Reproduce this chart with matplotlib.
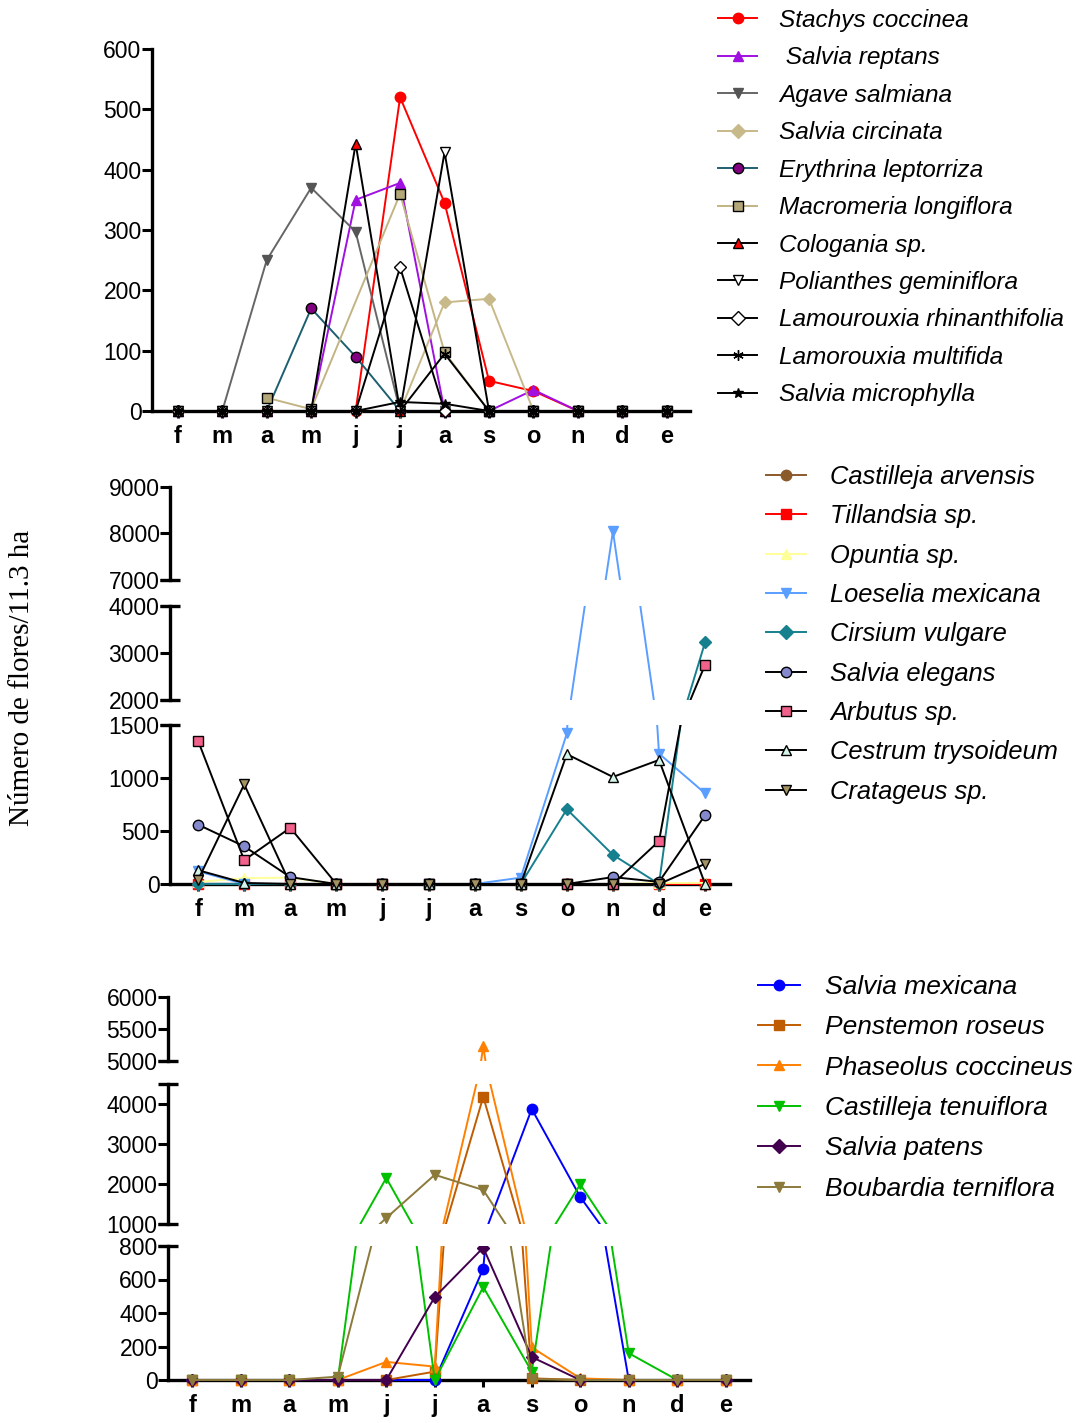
import numpy as np
import matplotlib
matplotlib.use('Agg')
import matplotlib.pyplot as plt
from matplotlib.lines import Line2D

plt.rcParams['font.family'] = ['Liberation Sans', 'DejaVu Sans']

nan = np.nan
months = ['f', 'm', 'a', 'm', 'j', 'j', 'a', 's', 'o', 'n', 'd', 'e']

# panel 1 (0-600)
stachys_coccinea = [0, 0, 0, 0, 0, 520, 345, 50, 33, 0, 0, 0]
salvia_reptans = [0, 0, 0, 0, 350, 378, 0, 0, 35, 0, 0, 0]
agave_salmiana = [0, 0, 250, 370, 297, 0, 0, 0, 0, 0, 0, 0]
salvia_circinata = [0, 0, 0, 0, 0, 0, 180, 186, 0, 0, 0, 0]
erythrina_leptorriza = [0, 0, 0, 170, 90, 0, 0, 0, 0, 0, 0, 0]
macromeria_longiflora = [nan, nan, 22, 3, nan, 360, 97, 0, 0, 0, 0, 0]
cologania = [0, 0, 0, 0, 443, 0, 0, 0, 0, 0, 0, 0]
polianthes_geminiflora = [0, 0, 0, 0, 0, 0, 429, 0, 0, 0, 0, 0]
lamourouxia_rhinanthifolia = [0, 0, 0, 0, 0, 238, 0, 0, 0, 0, 0, 0]
lamorouxia_multifida = [0, 0, 0, 0, 0, 0, 95, 0, 0, 0, 0, 0]
salvia_microphylla = [0, 0, 0, 0, 0, 15, 12, 0, 0, 0, 0, 0]

# panel 2 (broken axis 0-1500 / 2000-4000 / 7000-9000)
castilleja_arvensis = [0, 0, 0, 0, 0, 0, 0, 0, 0, 0, 0, 0]
tillandsia = [0, 0, 0, 0, 0, 0, 0, 0, 0, 0, 0, 0]
opuntia = [20, 55, 60, 0, 0, 0, 0, 0, 0, 0, 10, 10]
loeselia_mexicana = [120, 0, 0, 0, 0, 0, 0, 60, 1420, 8050, 1230, 855]
cirsium_vulgare = [0, 0, 0, 0, 0, 0, 0, 0, 705, 275, 0, 3230]
salvia_elegans = [560, 355, 65, 0, 0, 0, 0, 0, 0, 65, 20, 650]
arbutus = [1350, 225, 530, 0, 0, 0, 0, 0, 0, 0, 405, 2750]
cestrum_trysoideum = [130, 10, 0, 0, 0, 0, 0, 0, 1225, 1010, 1170, 0]
crataegus = [40, 940, 0, 0, 0, 0, 0, 0, 0, 0, 0, 190]

# panel 3 (broken axis 0-800 / 1000-4500 / 5000-6000)
salvia_mexicana = [0, 0, 0, 0, 0, 0, 665, 3875, 1675, 0, 0, 0]
penstemon_roseus = [0, 0, 0, 0, 0, 50, 4180, 10, 0, 0, 0, 0]
phaseolus_coccineus = [0, 0, 0, 0, 108, 80, 5230, 195, 10, 0, 0, 0]
castilleja_tenuiflora = [0, 0, 0, 0, 2150, 0, 555, 50, 1990, 160, 0, 0]
salvia_patens = [0, 0, 0, 0, 0, 495, 790, 137, 0, 0, 0, 0]
boubardia_terniflora = [0, 0, 0, 20, 1150, 2230, 1850, 5, 0, 0, 0, 0]

W, H = 1085, 1423
fig = plt.figure(figsize=(W / 100, H / 100), dpi=100)
x = np.arange(len(months))


def add_seg(x0, x1, v0, p0, v1, p1, lo, hi):
    k = (p0 - p1) / (v1 - v0)
    ptop = p1 - (hi - v1) * k
    pbot = p0 + (v0 - lo) * k
    ax = fig.add_axes([x0 / W, 1 - pbot / H, (x1 - x0) / W, (pbot - ptop) / H])
    ax.set_ylim(lo, hi)
    ax.patch.set_alpha(0)
    return ax


def style_seg(ax, ticks, xlim, bottom, cap_top, cap_bottom):
    ax.set_xlim(*xlim)
    ax.set_yticks(ticks)
    ax.set_yticklabels([str(t) for t in ticks])
    for s in ['top', 'right']:
        ax.spines[s].set_visible(False)
    ax.spines['left'].set_linewidth(2.4)
    ax.tick_params(axis='y', direction='out', length=7, width=2.2,
                   labelsize=16.5, pad=0.5)
    lo, hi = ax.get_ylim()
    if bottom:
        ax.spines['bottom'].set_position(('data', 0))
        ax.spines['bottom'].set_linewidth(2.4)
        ax.spines['left'].set_bounds(0, hi)
        ax.set_xticks(x)
        ax.set_xticklabels(months, fontsize=17, fontweight='bold')
        ax.tick_params(axis='x', direction='out', length=5, width=2.2, pad=5)
    else:
        ax.spines['bottom'].set_visible(False)
        ax.set_xticks([])
    tr = ax.get_yaxis_transform()
    if cap_top:
        ax.plot([0], [hi], marker='_', ms=15, mew=2.4, color='k',
                transform=tr, clip_on=False, zorder=5)
    if cap_bottom:
        ax.plot([0], [lo], marker='_', ms=15, mew=2.4, color='k',
                transform=tr, clip_on=False, zorder=5)


def draw(axes, vals, color, marker, mfc, mec, ms=7.5):
    v = np.array(vals, dtype=float)
    m = ~np.isnan(v)
    for ax in axes:
        ax.plot(x[m], v[m], color=color, lw=1.4, marker=marker, ms=ms,
                mfc=mfc, mec=mec, mew=1.0, zorder=3)


def legend(handles_spec, labels, anchor, size, hlen, hpad, spacing):
    handles = [Line2D([], [], color=c, lw=1.4, marker=mk, ms=7.5, mfc=fc,
                      mec=ec, mew=1.0) for c, mk, fc, ec in handles_spec]
    fig.legend(handles, labels, loc='upper left', bbox_to_anchor=anchor,
               frameon=False, borderpad=0, borderaxespad=0,
               labelspacing=spacing, handlelength=hlen, handletextpad=hpad,
               prop={'family': 'Liberation Sans', 'style': 'italic', 'size': size})


# ---------- panel 1 ----------
ax1 = add_seg(152, 690, 0, 411, 600, 49, -15, 600)
style_seg(ax1, [0, 100, 200, 300, 400, 500, 600], (-0.58, 11.52), True, False, False)

aster = (6, 2, 0)
p1 = [
    (stachys_coccinea, 'Stachys coccinea', ('#ff0000', 'o', '#ff0000', '#ff0000')),
    (salvia_reptans, ' Salvia reptans', ('#a010e0', '^', '#a010e0', '#a010e0')),
    (agave_salmiana, 'Agave salmiana', ('#666666', 'v', '#555555', '#555555')),
    (salvia_circinata, 'Salvia circinata', ('#c8b98a', 'D', '#c8b98a', '#c8b98a')),
    (erythrina_leptorriza, 'Erythrina leptorriza', ('#1d5f70', 'o', '#800080', 'black')),
    (macromeria_longiflora, 'Macromeria longiflora', ('#c2b483', 's', '#b4a878', 'black')),
    (cologania, 'Cologania sp.', ('black', '^', '#ff0000', 'black')),
    (polianthes_geminiflora, 'Polianthes geminiflora', ('black', 'v', 'white', 'black')),
    (lamourouxia_rhinanthifolia, 'Lamourouxia rhinanthifolia', ('black', 'D', 'white', 'black')),
    (lamorouxia_multifida, 'Lamorouxia multifida', ('black', aster, 'black', 'black')),
    (salvia_microphylla, 'Salvia microphylla', ('black', '*', 'black', 'black')),
]
for vals, lab, st in p1:
    ms = 6.5 if st[1] == 'D' else 7.5
    draw([ax1], vals, *st, ms=ms)
legend([s for _, _, s in p1], [l for _, l, _ in p1], (718 / W, 1 - 9 / H), 17.6, 1.6, 0.9, 0.59)

# ---------- panel 2 ----------
xl2 = (-0.61, 11.54)
a2 = add_seg(170, 730, 7000, 580, 9000, 487, 7000, 9000)
b2 = add_seg(170, 730, 2000, 700, 4000, 606, 2000, 4000)
c2 = add_seg(170, 730, 0, 884, 1500, 725, -60, 1500)
style_seg(a2, [7000, 8000, 9000], xl2, False, False, True)
style_seg(b2, [2000, 3000, 4000], xl2, False, True, True)
style_seg(c2, [0, 500, 1000, 1500], xl2, True, True, False)

p2 = [
    (castilleja_arvensis, 'Castilleja arvensis', ('#8b5a2b', 'o', '#8b5a2b', '#8b5a2b')),
    (tillandsia, 'Tillandsia sp.', ('#ff0000', 's', '#ff0000', '#ff0000')),
    (opuntia, 'Opuntia sp.', ('#ffff99', '^', '#ffff99', '#ffff99')),
    (loeselia_mexicana, 'Loeselia mexicana', ('#5a9eff', 'v', '#5a9eff', '#5a9eff')),
    (cirsium_vulgare, 'Cirsium vulgare', ('#16808f', 'D', '#16808f', '#16808f')),
    (salvia_elegans, 'Salvia elegans', ('black', 'o', '#8488cc', 'black')),
    (arbutus, 'Arbutus sp.', ('black', 's', '#f2608c', 'black')),
    (cestrum_trysoideum, 'Cestrum trysoideum', ('black', '^', '#d4f5ea', 'black')),
    (crataegus, 'Cratageus sp.', ('black', 'v', '#a39262', 'black')),
]
for vals, lab, st in p2:
    ms = 6.5 if st[1] == 'D' else 7.5
    draw([a2, b2, c2], vals, *st, ms=ms)
legend([s for _, _, s in p2], [l for _, l, _ in p2], (766 / W, 1 - 465 / H), 18.4, 1.56, 0.94, 0.6)

# ---------- panel 3 ----------
xl3 = (-0.5, 11.5)
a3 = add_seg(168, 750, 5000, 1061, 6000, 997, 5000, 6000)
b3 = add_seg(168, 750, 1000, 1224, 4000, 1104, 1000, 4500)
c3 = add_seg(168, 750, 0, 1380, 800, 1246, -40, 800)
style_seg(a3, [5000, 5500, 6000], xl3, False, False, True)
style_seg(b3, [1000, 2000, 3000, 4000], xl3, False, True, True)
style_seg(c3, [0, 200, 400, 600, 800], xl3, True, True, False)

p3 = [
    (salvia_mexicana, 'Salvia mexicana', ('#0000ff', 'o', '#0000ff', '#0000ff')),
    (penstemon_roseus, 'Penstemon roseus', ('#c05c00', 's', '#c05c00', '#c05c00')),
    (phaseolus_coccineus, 'Phaseolus coccineus', ('#ff8000', '^', '#ff8000', '#ff8000')),
    (castilleja_tenuiflora, 'Castilleja tenuiflora', ('#00c000', 'v', '#00c000', '#00c000')),
    (salvia_patens, 'Salvia patens', ('#42004e', 'D', '#42004e', '#42004e')),
    (boubardia_terniflora, 'Boubardia terniflora', ('#8b7a3a', 'v', '#8b7a3a', '#8b7a3a')),
]
for vals, lab, st in p3:
    ms = 6.5 if st[1] == 'D' else 7.5
    draw([a3, b3, c3], vals, *st, ms=ms)
legend([s for _, _, s in p3], [l for _, l, _ in p3], (758 / W, 1 - 975 / H), 19, 1.59, 0.95, 0.62)

fig.text(22 / W, 1 - 678 / H, 'Número de flores/11.3 ha', rotation=90,
         ha='center', va='center', fontsize=21,
         family=['Liberation Serif', 'DejaVu Serif'])

fig.savefig('out.png', dpi=100)
